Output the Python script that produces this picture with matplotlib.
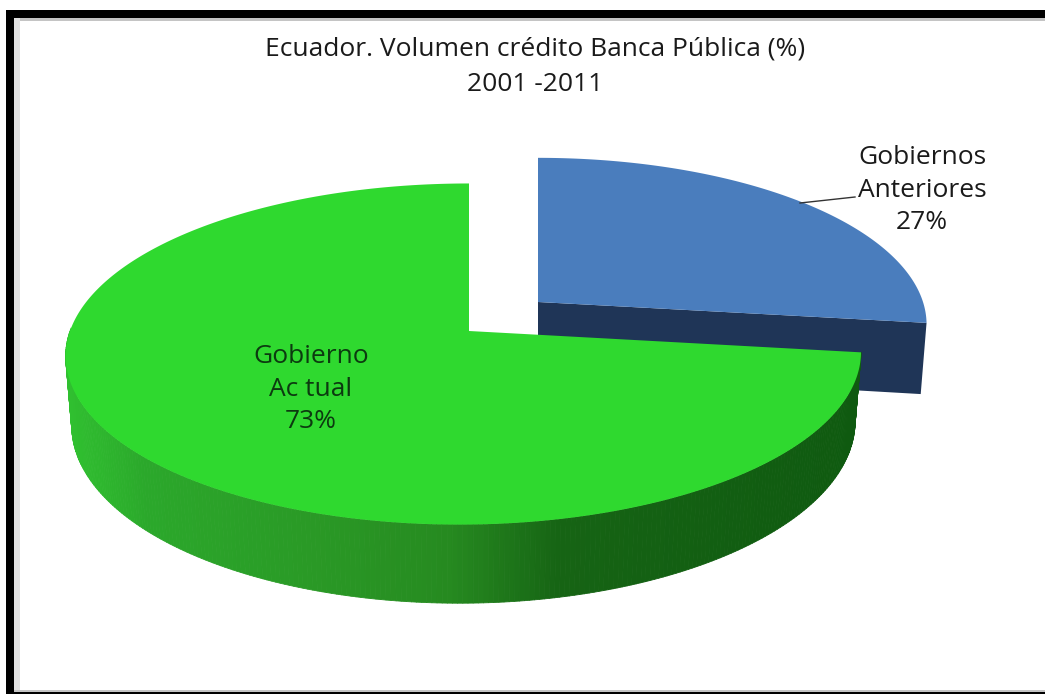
import numpy as np
import matplotlib
matplotlib.use('Agg')
import matplotlib.pyplot as plt
from matplotlib.colors import LinearSegmentedColormap
from matplotlib.collections import PolyCollection
from matplotlib.patches import Polygon, Rectangle

# Datos del grafico
categories = ['Gobiernos\nAnteriores', 'Gobierno\nAc tual']
shares = [27, 73]
chart_title = 'Ecuador. Volumen crédito Banca Pública (%)\n2001 -2011'

plt.rcParams['font.family'] = ['Open Sans', 'DejaVu Sans']

W, H = 1045, 694
fig = plt.figure(figsize=(W / 100, H / 100), dpi=100)
ax = fig.add_axes([0, 0, 1, 1])
ax.set_xlim(0, W)
ax.set_ylim(H, 0)
ax.axis('off')

# Marco de la imagen
ax.add_patch(Rectangle((6, 10), W - 6, 8, fc='black', lw=0))
ax.add_patch(Rectangle((6, 10), 8, H - 10, fc='black', lw=0))
ax.add_patch(Rectangle((14, 18), W - 14, 3, fc='#c4c4c4', lw=0))
ax.add_patch(Rectangle((14, 18), 6, H - 18, fc='#e2e2e2', lw=0))
ax.add_patch(Rectangle((14, H - 4), W - 14, 2, fc='#c4c4c4', lw=0))
ax.add_patch(Rectangle((14, H - 2), W - 14, 2, fc='black', lw=0))

TILT = 0.135     # perspectiva
SQUASH = 0.425   # altura de la elipse / radio


def project(theta, cx, cy, radius, lean=0.0):
    # circulo del pastel -> pantalla, con perspectiva
    u, v = np.cos(theta), np.sin(theta)
    w = 1 + TILT * v
    return cx + radius * u / w + lean * (1 - v), cy - radius * SQUASH * v / w, w


def extrude(x, y, w, cx, depth):
    # baja el borde hacia el fondo del pastel
    return cx + (x - cx) * 0.985, y + depth / w


def wedge_angles(start_deg, share, clockwise):
    sweep = np.radians(360 * share / sum(shares))
    start = np.radians(start_deg)
    end = start - sweep if clockwise else start + sweep
    return np.linspace(start, end, 400)


# Porcion azul (separada), sentido horario desde arriba
blue_c = (538, 302)
blue_r = 385
theta = wedge_angles(90, shares[0], True)
bx, by, bw = project(theta, blue_c[0], blue_c[1], blue_r)
bx2, by2 = extrude(bx, by, bw, blue_c[0], 70)
side_x = [blue_c[0], bx[-1], bx2[-1], blue_c[0]]
side_y = [blue_c[1], by[-1], by2[-1], blue_c[1] + 70]
ax.add_patch(Polygon(np.c_[side_x, side_y], fc='#1f3557', lw=0))
ax.add_patch(Polygon(np.c_[np.r_[blue_c[0], bx], np.r_[blue_c[1], by]],
                     fc='#4a7dbd', ec='none'))

# Porcion verde, sentido antihorario desde arriba
green_c = (469, 331)
green_r = 394
side_cmap = LinearSegmentedColormap.from_list(
    'lado', [(0.0, '#30c030'), (0.10, '#2ba82b'), (0.30, '#2a9a26'),
             (0.48, '#268a20'), (0.62, '#166414'), (1.0, '#0f5a10')])
theta = wedge_angles(90, shares[1], False)
gx, gy, gw = project(theta, green_c[0], green_c[1], green_r, lean=-5)
gx2, gy2 = extrude(gx, gy, gw, green_c[0], 68)
strips, strip_cols = [], []
for i in range(len(theta) - 1):
    if np.sin(theta[i]) > 0.02:
        continue
    strips.append([(gx[i], gy[i]), (gx[i + 1], gy[i + 1]),
                   (gx2[i + 1], gy2[i + 1]), (gx2[i], gy2[i])])
    strip_cols.append(side_cmap((gx[i] - gx.min()) / (gx.max() - gx.min())))
ax.add_collection(PolyCollection(strips, facecolors=strip_cols,
                                 edgecolors='face', linewidths=0.6))
ax.add_patch(Polygon(np.c_[np.r_[green_c[0], gx], np.r_[green_c[1], gy]],
                     fc='#2fd92f', ec='none'))

# Textos
ax.text(535, 67, chart_title, ha='center', va='center', fontsize=19,
        color='#1a1a1a', linespacing=1.55)
ax.plot([800, 855], [203, 197], color='#333333', lw=1)
ax.text(922, 190, f'{categories[0]}\n{shares[0]}%', ha='center', va='center',
        fontsize=19, color='#1a1a1a', linespacing=1.38)
ax.text(311, 389, f'{categories[1]}\n{shares[1]}%', ha='center', va='center',
        fontsize=19, color='#0c3a10', linespacing=1.38)

fig.savefig('out.png', dpi=100, facecolor='white')
